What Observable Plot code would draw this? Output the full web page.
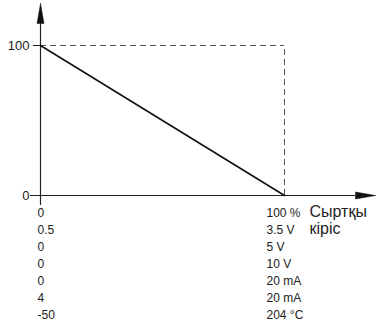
<!DOCTYPE html>
<html><head><meta charset="utf-8">
<script src="https://cdn.jsdelivr.net/npm/d3@7"></script>
<script src="https://cdn.jsdelivr.net/npm/@observablehq/plot@0.6"></script>
<style>body{margin:0;background:#fff}svg{font-family:"Liberation Sans",Arial,sans-serif}</style>
</head><body><div id="c"></div>
<script>
const yTicks = [0, 100];
const lineX = [0, 100];
const lineY = [100, 0];
const leftLabels = ["0", "0.5", "0", "0", "0", "4", "-50"];
const rightLabels = ["100 %", "3.5 V", "5 V", "10 V", "20 mA", "20 mA", "204 °C"];
const axisTitle = ["Сыртқы", "кіріс"];

const W = 376, H = 326, mL = 40, mR = 92, mT = 45, mB = 131;
const pxX = 100 / (W - mL - mR);   // data units per px
const pxY = 100 / (H - mT - mB);
const rowY = i => -(i + 1) * 17 * pxY - 0.5 * pxY;

const line = lineX.map((x, i) => ({x, y: lineY[i]}));
const left = leftLabels.map((t, i) => ({x: 0, y: rowY(i), t}));
const right = rightLabels.map((t, i) => ({x: 100, y: rowY(i), t}));
const title = axisTitle.map((t, i) => ({x: 100, y: rowY(i) + 1.5 * pxY, t}));

const xEnd = 100 + (375 - 284) * pxX, xHead = 100 + (355 - 284) * pxX;
const yEnd = 100 + 42 * pxY, yHead = 100 + 22 * pxY;

const chart = Plot.plot({
  width: W, height: H,
  marginLeft: mL, marginRight: mR, marginTop: mT, marginBottom: mB,
  x: {domain: [0, 100], axis: null},
  y: {domain: [0, 100], axis: null},
  style: {fontSize: "12px", color: "#222"},
  marks: [
    Plot.ruleY([100], {x1: 0, x2: 100, stroke: "#555", strokeDasharray: "6,4", strokeWidth: 1}),
    Plot.ruleX([100], {y1: 0, y2: 100, stroke: "#555", strokeDasharray: "6,4", strokeWidth: 1}),
    Plot.ruleY([0], {x1: -10 * pxX, x2: xHead, stroke: "#222", strokeWidth: 1.2}),
    Plot.ruleX([0], {y1: -10 * pxY, y2: yHead, stroke: "#222", strokeWidth: 1.2}),
    Plot.line([{x: xEnd, y: 0}, {x: xHead, y: 3.5 * pxY}, {x: xHead, y: -3.5 * pxY}, {x: xEnd, y: 0}], {x: "x", y: "y", fill: "#111", stroke: "#111", strokeWidth: 0.5}),
    Plot.line([{x: 0, y: yEnd}, {x: -3.5 * pxX, y: yHead}, {x: 3.5 * pxX, y: yHead}, {x: 0, y: yEnd}], {x: "x", y: "y", fill: "#111", stroke: "#111", strokeWidth: 0.5}),
    Plot.ruleY(yTicks, {x1: -7 * pxX, x2: 0, stroke: "#222", strokeWidth: 1}),
    Plot.text(yTicks, {x: -7 * pxX, y: d => d, text: d => String(d), textAnchor: "end", dx: -4, fontSize: 13, fill: "#222"}),
    Plot.line(line, {x: "x", y: "y", stroke: "#111", strokeWidth: 1.6}),
    Plot.text(left, {x: "x", y: "y", text: "t", textAnchor: "start", dx: -3, fontSize: 12, fill: "#222"}),
    Plot.text(right, {x: "x", y: "y", text: "t", textAnchor: "start", dx: -18, fontSize: 12, fill: "#222"}),
    Plot.text(title, {x: "x", y: "y", text: "t", textAnchor: "start", dx: 25, fontSize: 16, fill: "#222"})
  ]
});
document.getElementById("c").appendChild(chart);
</script></body></html>
